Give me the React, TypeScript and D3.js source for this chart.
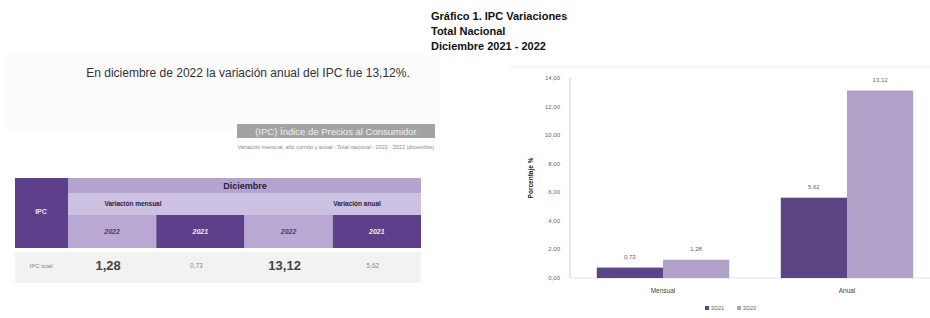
import * as d3 from 'd3';

const categories = ['Mensual', 'Anual'];
const years = ['2021', '2022'];
const values2021 = [0.73, 5.62];
const values2022 = [1.28, 13.12];
const yTicks = [0, 2, 4, 6, 8, 10, 12, 14];

const tableYears = ['2022', '2021', '2022', '2021'];
const tableValues = ['1,28', '0,73', '13,12', '5,62'];
const titleLines = ['Gráfico 1. IPC Variaciones', 'Total Nacional', 'Diciembre 2021 - 2022'];

const DARK = '#5c4585';
const LIGHT = '#b1a1c9';
const T_DARK = '#5d3f8c';
const T_LIGHT = '#b9a8d4';
const T_HEAD = '#b4a2cf';
const T_SUB = '#cdc1e1';
const FONT = 'Liberation Sans, Arial, sans-serif';

const fmt = (v: number) => v.toFixed(2).replace('.', ',');

export default function App() {
  const x0 = d3.scaleBand<string>().domain(categories).range([571, 939]).paddingInner(0.28).paddingOuter(0.14);
  const x1 = d3.scaleBand<string>().domain(years).range([0, x0.bandwidth()]);
  const y = d3.scaleLinear().domain([0, 14]).range([278, 78]);
  const color = d3.scaleOrdinal<string, string>().domain(years).range([DARK, LIGHT]);

  const series = [values2021, values2022];
  // table column edges
  const cols = d3.scaleBand<number>().domain(d3.range(4)).range([68, 421]);

  return (
    <svg width={930} height={318} style={{ position: 'absolute', left: 0, top: 0, fontFamily: FONT }}>
      <rect width={930} height={318} fill="#fff" />

      {/* left panel */}
      <rect x={5} y={55} width={435} height={74} fill="#fbfbfb" />
      <text x={248} y={77} textAnchor="middle" fontSize={12} fill="#333">
        En diciembre de 2022 la variación anual del IPC fue 13,12%.
      </text>
      <rect x={237} y={124} width={198} height={14} fill="#a3a3a3" />
      <text x={336} y={134.5} textAnchor="middle" fontSize={9.5} fill="#eee">
        (IPC) Índice de Precios al Consumidor
      </text>
      <text x={434} y={149} textAnchor="end" fontSize={5.5} fill="#888">
        Variación mensual, año corrido y anual - Total nacional - 2021 - 2022 (diciembre)
      </text>

      {/* table */}
      <rect x={15} y={178} width={53} height={70} fill={T_DARK} />
      <text x={41} y={214} textAnchor="middle" fontSize={7} fontWeight="bold" fill="#e8e0f4">IPC</text>
      <rect x={68} y={178} width={353} height={15} fill={T_HEAD} />
      <text x={245} y={188.5} textAnchor="middle" fontSize={9} fontWeight="bold" fill="#2a2140">Diciembre</text>
      <rect x={68} y={193} width={353} height={22} fill={T_SUB} />
      <text x={133} y={206} textAnchor="middle" fontSize={6.5} fontWeight="bold" fill="#2a2140">Variación mensual</text>
      <text x={357} y={206} textAnchor="middle" fontSize={6.5} fontWeight="bold" fill="#2a2140">Variación anual</text>
      {tableYears.map((yr, i) => (
        <g key={i}>
          <rect x={cols(i)} y={215} width={cols.bandwidth()} height={33} fill={i % 2 ? T_DARK : T_LIGHT} />
          <text x={cols(i)! + cols.bandwidth() / 2} y={234} textAnchor="middle" fontSize={7} fontWeight="bold"
            fontStyle="italic" fill={i % 2 ? '#eee' : '#4a3d66'}>{yr}</text>
        </g>
      ))}
      <rect x={15} y={252} width={406} height={31} fill="#f2f2f2" />
      <text x={41} y={268} textAnchor="middle" fontSize={6} fill="#888">IPC total</text>
      {tableValues.map((v, i) => (
        <text key={i} x={cols(i)! + cols.bandwidth() / 2 - 4} y={i % 2 ? 268 : 270} textAnchor="middle"
          fontSize={i % 2 ? 6.5 : 13} fontWeight={i % 2 ? 'normal' : 'bold'} fill={i % 2 ? '#888' : '#444'}>{v}</text>
      ))}

      {/* chart title */}
      {titleLines.map((t, i) => (
        <text key={t} x={431} y={20 + i * 15} fontSize={11} fontWeight="bold" fill="#111">{t}</text>
      ))}
      <line x1={510} x2={930} y1={67} y2={67} stroke="#e8e8e8" />

      {/* y axis */}
      <line x1={570} x2={570} y1={78} y2={278} stroke="#d0d0d0" />
      {yTicks.map((t) => (
        <text key={t} x={560} y={y(t) + 2} textAnchor="end" fontSize={6} fill="#666">{fmt(t)}</text>
      ))}
      <text transform={`translate(533,${y(7)}) rotate(-90)`} textAnchor="middle" fontSize={6.5} fontWeight="bold" fill="#222">
        Porcentaje %
      </text>
      <line x1={570} x2={930} y1={278} y2={278} stroke="#e0e0e0" />

      {/* bars */}
      {categories.map((c, ci) => (
        <g key={c} transform={`translate(${x0(c)},0)`}>
          {years.map((yr, si) => {
            const v = series[si][ci];
            return (
              <g key={yr}>
                <rect x={x1(yr)} y={y(v)} width={x1.bandwidth()} height={y(0) - y(v)} fill={color(yr)} />
                <text x={x1(yr)! + x1.bandwidth() / 2} y={y(v) - 9} textAnchor="middle" fontSize={6} fill="#666">
                  {fmt(v)}
                </text>
              </g>
            );
          })}
          <text x={x0.bandwidth() / 2} y={293} textAnchor="middle" fontSize={6.5} fill="#444">{c}</text>
        </g>
      ))}

      {/* legend */}
      {years.map((yr, i) => (
        <g key={yr} transform={`translate(${705 + i * 32},310)`}>
          <rect x={0} y={-4} width={4} height={4} fill={color(yr)} />
          <text x={6} y={0} fontSize={6} fill="#666">{yr}</text>
        </g>
      ))}
    </svg>
  );
}
